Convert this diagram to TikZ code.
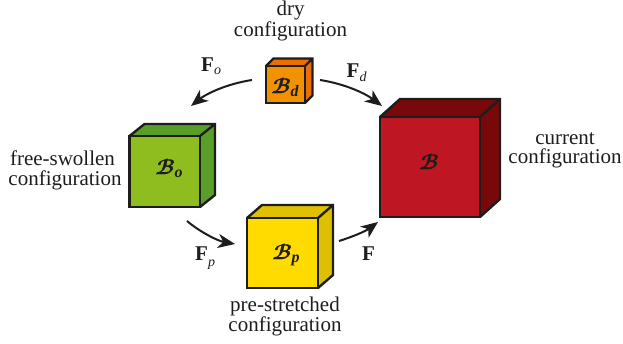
\documentclass[tikz,border=0pt]{standalone}
\usepackage{fontspec}
\setmainfont{Liberation Serif}
\newfontfamily\scrfont[FakeBold=1.6]{Latin Modern Math}
\usetikzlibrary{arrows.meta}
\definecolor{ink}{HTML}{1D1D1B}
\definecolor{orF}{HTML}{F39200}\definecolor{orS}{HTML}{EC6D00}
\definecolor{grF}{HTML}{8FBC1E}\definecolor{grS}{HTML}{5A9E2A}
\definecolor{yeF}{HTML}{FFDB00}\definecolor{yeS}{HTML}{DFC000}
\definecolor{reF}{HTML}{BE1622}\definecolor{reS}{HTML}{78080A}
\newcommand{\fatB}{{\fontsize{21}{21}\scrfont ^^^^^^01d4d1}}
\newcommand{\subsc}[1]{{\fontsize{16}{16}\selectfont\bfseries\itshape\raisebox{-3pt}{#1}}}
\newcommand{\cube}[8]{% x y w h dx dy front side
  \fill[#8] (#1,#2) -- ++(#3,0) -- ++(#5,#6) -- ++(0,#4) -- ++(-#5,-#6) -- cycle;
  \fill[#8] (#1,#2) -- ++(#5,#6) -- ++(#3,0) -- ++(-#5,-#6) -- cycle;
  \node[face,fill=#7,minimum width=#3pt,minimum height=#4pt,anchor=north west] at (#1,#2) {};
  \draw[edge] (#1,#2) -- ++(#5,#6) -- ++(#3,0) -- ++(0,#4) -- ++(-#5,-#6) (#1+#3,#2) -- ++(#5,#6);
}
\tikzset{
  face/.style={draw=ink,line width=2.4pt,inner sep=0pt,outer sep=0pt},
  edge/.style={draw=ink,line width=2.4pt,line join=miter},
  lab/.style={anchor=base,inner sep=0pt,font=\fontsize{21}{21}\selectfont,text=ink},
  twolab/.style={anchor=south,inner sep=0pt,align=center,font=\fontsize{21}{18.5}\selectfont,text=ink},
  sub/.style={anchor=base west,inner sep=0pt,font=\fontsize{14}{14}\selectfont\itshape,text=ink},
  sym/.style={anchor=base,inner sep=0pt,text=ink},
  flow/.style={draw=ink,line width=2pt,-{Stealth[length=17pt,width=14pt,inset=5pt]}}
}
\begin{document}
\begin{tikzpicture}[x=1pt,y=-1pt]
\useasboundingbox (0,0) rectangle (623,343);
\cube{266}{66}{39}{37}{7.5}{-7.5}{orF}{orS}
\cube{129.5}{136}{70.5}{71}{15}{-12}{grF}{grS}
\cube{247}{218}{71}{70}{15}{-13}{yeF}{yeS}
\cube{380}{117}{100}{100}{20}{-18}{reF}{reS}
\node[sym] (bd) at (285,93) {\fatB\subsc{d}};
\node[sym] (bo) at (169,174) {\fatB\subsc{o}};
\node[sym] (bp) at (286,259) {\fatB\subsc{p}};
\node[sym] (bc) at (429,169) {\fatB};
\node[twolab] (t1) at (290.5,41) {dry\\configuration};
\node[twolab] (t3) at (65,190) {free-swollen\hspace*{5pt}\\[1.5pt]configuration};
\node[twolab] (t5) at (285,336.5) {pre-stretched\\configuration};
\node[twolab] (t7) at (565,168) {current\\configuration};
\node[lab,anchor=base west] (fo) at (201,71) {\textbf{F}};
\node[sub] (fos) at (214,74) {o};
\node[lab,anchor=base west] (fd) at (346.5,77) {\textbf{F}};
\node[sub] (fds) at (359.5,81) {d};
\node[lab,anchor=base west] (fp) at (195,260) {\textbf{F}};
\node[sub] (fps) at (208,266) {p};
\node[lab,anchor=base west] (ff) at (362,260) {\textbf{F}};
\coordinate (a1) at (252,80); \coordinate (a2) at (191,106);
\coordinate (b1) at (320,80); \coordinate (b2) at (382,106);
\coordinate (c1) at (187,221); \coordinate (c2) at (235,244);
\coordinate (d1) at (339,241); \coordinate (d2) at (378,222);
\draw[flow] (a1) .. controls (226,84) and (206,94) .. (a2);
\draw[flow] (b1) .. controls (346,84) and (366,94) .. (b2);
\draw[flow] (c1) .. controls (200,232) and (218,241) .. (c2);
\draw[flow] (d1) .. controls (352,237) and (366,231) .. (d2);
\end{tikzpicture}
\end{document}
